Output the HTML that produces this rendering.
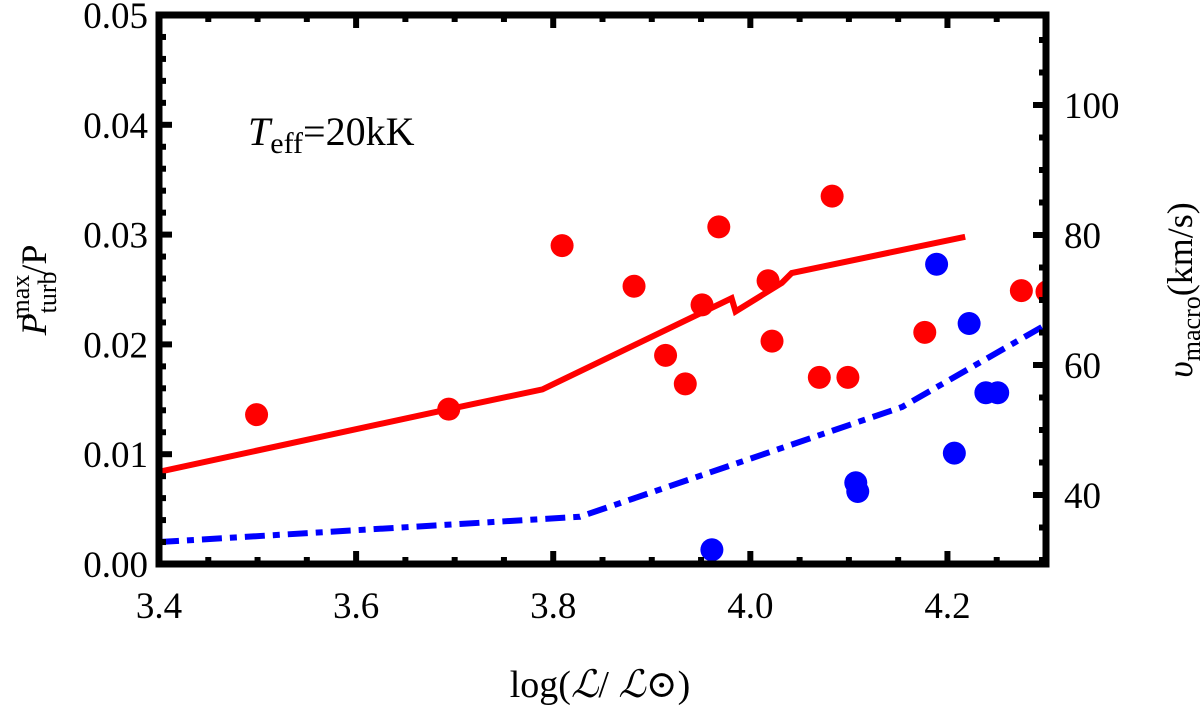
<!DOCTYPE html>
<html><head><meta charset="utf-8"><style>
html,body{margin:0;padding:0;background:#fff}
svg, svg text{font-family:"Liberation Serif","DejaVu Serif",serif}
</style></head><body>
<svg id="chart" width="1200" height="706" viewBox="0 0 1200 706" xmlns="http://www.w3.org/2000/svg" font-family="Liberation Serif, serif">
<g id="marks"></g>
<g id="axes"></g>
<text x="248" y="145" font-size="40" font-family="Liberation Serif, serif"><tspan font-style="italic">T</tspan><tspan font-size="30" dy="8">eff</tspan><tspan dy="-8">=20kK</tspan></text>
<text x="600" y="697" font-size="38" text-anchor="middle" font-family="Liberation Serif, serif">log(<tspan font-style="italic">ℒ</tspan>/ <tspan font-style="italic">ℒ</tspan>⊙)</text>
<text transform="translate(46,290) rotate(-90)" font-size="36" text-anchor="middle" font-family="Liberation Serif, serif"><tspan font-style="italic">P</tspan><tspan font-size="26" dy="10">turb</tspan><tspan font-size="26" dx="-48" dy="-27">max</tspan><tspan dy="17">/P</tspan></text>
<text transform="translate(1192,290) rotate(-90)" font-size="36" text-anchor="middle" font-family="Liberation Serif, serif"><tspan font-style="italic">υ</tspan><tspan font-size="26" dy="8">macro</tspan><tspan dy="-8">(km/s)</tspan></text>
</svg>
<script>
const redX=[3.499,3.694,3.809,3.882,3.914,3.934,3.951,3.968,4.018,4.022,4.083,4.070,4.099,4.177,4.275,4.301];
const redY=[0.0136,0.0141,0.0290,0.0253,0.0190,0.0164,0.0236,0.0307,0.0258,0.0203,0.0335,0.0170,0.0170,0.0211,0.0249,0.0248];
const blueX=[3.961,4.107,4.109,4.189,4.222,4.207,4.239,4.251];
const blueY=[0.0013,0.0074,0.0066,0.0273,0.0219,0.0101,0.0156,0.0156];
const redLineX=[3.4,3.694,3.789,3.981,3.985,4.032,4.042,4.218];
const redLineY=[0.0084,0.0141,0.0159,0.0242,0.0230,0.0256,0.0265,0.0298];
const blueLineX=[3.4,3.827,4.154,4.3];
const blueLineY=[0.0020,0.0043,0.0143,0.0218];
const xTicks=[3.4,3.6,3.8,4.0,4.2];
const xTickLabels=["3.4","3.6","3.8","4.0","4.2"];
const yTicks=[0,0.01,0.02,0.03,0.04,0.05];
const yTickLabels=["0.00","0.01","0.02","0.03","0.04","0.05"];
const rTicks=[40,60,80,100];
const rTickLabels=["40","60","80","100"];

const NS="http://www.w3.org/2000/svg";
const X0=159,X1=1046,Y0=564,Y1=15;
const xs=v=>X0+(v-3.4)/0.9*(X1-X0);
const ys=v=>Y0-(v/0.05)*(Y0-Y1);
const rs=v=>495-(v-40)*6.5;
const marks=document.getElementById('marks'),axes=document.getElementById('axes');
function mk(tag,attrs,parent){const e=document.createElementNS(NS,tag);for(const k in attrs)e.setAttribute(k,attrs[k]);parent.appendChild(e);return e;}
const clip=mk('clipPath',{id:'cp'},marks);mk('rect',{x:X0,y:Y1,width:X1-X0,height:Y0-Y1},clip);
const g=mk('g',{'clip-path':'url(#cp)'},marks);
let p=mk('polyline',{points:redLineX.map((x,i)=>xs(x)+','+ys(redLineY[i])).join(' '),fill:'none',stroke:'#f00','stroke-width':6},g);


p=mk('polyline',{points:blueLineX.map((x,i)=>xs(x)+','+ys(blueLineY[i])).join(' '),fill:'none',stroke:'#00f','stroke-width':6,'stroke-dasharray':'20,8,7,8'},g);


redX.forEach((x,i)=>{const c=mk('circle',{cx:xs(x),cy:ys(redY[i]),r:11.5,fill:'#f00'},g);

});
blueX.forEach((x,i)=>{const c=mk('circle',{cx:xs(x),cy:ys(blueY[i]),r:11.5,fill:'#00f'},g);

});
for(let v=3.4;v<=4.301;v+=0.05){const x=xs(v);const maj=Math.abs(Math.round(v*10)/10-v)<1e-6&&Math.round(v*10)%2==0;const L=maj?13:7;
mk('line',{x1:x,x2:x,y1:Y0,y2:Y0-L,stroke:'#000','stroke-width':6},axes);mk('line',{x1:x,x2:x,y1:Y1,y2:Y1+L,stroke:'#000','stroke-width':6},axes);}
for(let i=0;i<=25;i++){const v=i*0.002;const y=ys(v);const L=i%5==0?13:7;mk('line',{x1:X0,x2:X0+L,y1:y,y2:y,stroke:'#000','stroke-width':6},axes);}
for(let v=30;v<=110;v+=5){const y=rs(v);const L=v%20==0?13:7;mk('line',{x1:X1,x2:X1-L,y1:y,y2:y,stroke:'#000','stroke-width':6},axes);}
mk('rect',{x:X0,y:Y1,width:X1-X0,height:Y0-Y1,fill:'none',stroke:'#000','stroke-width':7},axes);
xTicks.forEach((v,i)=>{const t=mk('text',{x:xs(v),y:618,'font-size':37,'text-anchor':'middle','font-family':'Liberation Serif, serif'},axes);t.textContent=xTickLabels[i];

});
yTicks.forEach((v,i)=>{const t=mk('text',{x:148,y:ys(v)+13,'font-size':37,'text-anchor':'end','font-family':'Liberation Serif, serif'},axes);t.textContent=yTickLabels[i];

});
rTicks.forEach((v,i)=>{const t=mk('text',{x:1064,y:rs(v)+13,'font-size':37,'font-family':'Liberation Serif, serif'},axes);t.textContent=rTickLabels[i];

});
</script>
</body></html>
